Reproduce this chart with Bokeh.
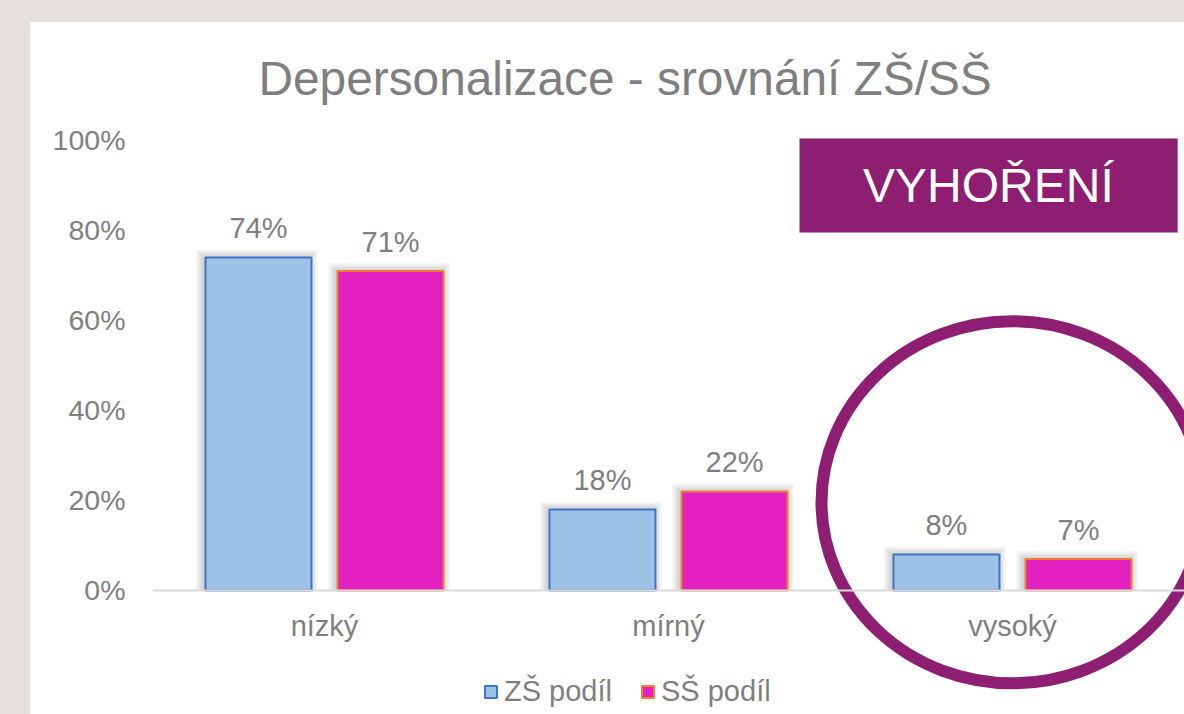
from bokeh.plotting import figure
from bokeh.models import (FactorRange, Range1d, FixedTicker, ColumnDataSource, Legend, LegendItem,
                          BoxAnnotation, Label, Spacer, NumeralTickFormatter)
from bokeh.transform import dodge
from bokeh.layouts import column, row
from bokeh.core.properties import value
from bokeh.embed import file_html
from bokeh.resources import INLINE

categories = ["nízký", "mírný", "vysoký"]
zs_values = [0.74, 0.18, 0.08]
ss_values = [0.71, 0.22, 0.07]
series_names = ["ZŠ podíl", "SŠ podíl"]
y_ticks = [0, 0.2, 0.4, 0.6, 0.8, 1.0]
title_text = "Depersonalizace - srovnání ZŠ/SŠ"
box_text = "VYHOŘENÍ"

FONT = "Liberation Sans"
GRAY = "#7f7f7f"
PURPLE = "#8e1e72"
PAGE_BG = "#e4e1dd"

src = ColumnDataSource(dict(
    cat=categories,
    zs=zs_values,
    ss=ss_values,
    zs_lbl=[f"{round(v * 100)}%" for v in zs_values],
    ss_lbl=[f"{round(v * 100)}%" for v in ss_values],
))

p = figure(x_range=FactorRange(*categories, range_padding=0),
           y_range=Range1d(-0.2756, 1.0333),
           width=1154, height=692, output_backend="svg", toolbar_location=None,
           min_border_left=122, min_border_right=0, min_border_bottom=0, min_border_top=103)
p.outline_line_color = None
p.xgrid.visible = False
p.ygrid.visible = False
p.background_fill_color = "white"
p.border_fill_color = "white"

p.title.text = title_text
p.title.text_font = FONT
p.title.text_font_size = "47.8px"
p.title.text_font_style = "normal"
p.title.text_color = GRAY
p.title.align = "left"
p.title.offset = 106
p.title.standoff = 41

# y axis
p.yaxis.ticker = FixedTicker(ticks=y_ticks)
p.yaxis.formatter = NumeralTickFormatter(format="0%")
p.yaxis.axis_line_color = None
p.yaxis.major_tick_line_color = None
p.yaxis.minor_tick_line_color = None
p.yaxis.major_tick_out = 0
p.yaxis.major_label_standoff = 27
p.yaxis.major_label_text_font = FONT
p.yaxis.major_label_text_font_size = "28.5px"
p.yaxis.major_label_text_color = GRAY

# x axis at y = 0
p.xaxis.fixed_location = 0
p.xaxis.axis_line_color = "#d9d9d9"
p.xaxis.axis_line_width = 2
p.xaxis.major_tick_line_color = None
p.xaxis.minor_tick_line_color = None
p.xaxis.major_tick_out = 0
p.xaxis.major_label_standoff = 20
p.xaxis.major_label_text_font = FONT
p.xaxis.major_label_text_font_size = "29px"
p.xaxis.major_label_text_color = GRAY

BW = 0.308
OFF = 0.192
PX_X = 1.0 / 344.0
PX_Y = 1.0 / 450.0

# soft shadows behind the bars
for k in range(1, 6):
    for off, col in ((-OFF, "zs"), (OFF, "ss")):
        p.vbar(x=dodge("cat", off - 1.5 * PX_X, range=p.x_range), top=dodge(col, k * 1.6 * PX_Y),
               width=BW + 2 * k * 1.6 * PX_X, bottom=0, source=src,
               fill_color="black", fill_alpha=0.035, line_color=None)

r1 = p.vbar(x=dodge("cat", -OFF, range=p.x_range), top="zs", width=BW, bottom=0, source=src,
            fill_color="#9dc3e6", line_color="#4472c4", line_width=2)
r2 = p.vbar(x=dodge("cat", OFF, range=p.x_range), top="ss", width=BW, bottom=0, source=src,
            fill_color="#e321c1", line_color="#ed7d31", line_width=2)

p.text(x=dodge("cat", -OFF, range=p.x_range), y="zs", text="zs_lbl", source=src,
       y_offset=-13, text_align="center", text_baseline="bottom",
       text_font=value(FONT), text_font_size="29px", text_color=GRAY)
p.text(x=dodge("cat", OFF, range=p.x_range), y="ss", text="ss_lbl", source=src,
       y_offset=-13, text_align="center", text_baseline="bottom",
       text_font=value(FONT), text_font_size="29px", text_color=GRAY)

# highlight ellipse around "vysoký"
p.ellipse(x=["vysoký"], y=[0.196], width=382, height=362,
          width_units="screen", height_units="screen",
          fill_color=None, line_color=PURPLE, line_width=12)

# VYHOŘENÍ box
p.add_layout(BoxAnnotation(left=1.881, right=2.98, bottom=0.7956, top=1.0044,
                           fill_color=PURPLE, fill_alpha=1.0,
                           line_color="#6f8fd0", line_width=1))
p.add_layout(Label(x=2.43, y=0.90, text=box_text, text_align="center", text_baseline="middle",
                   text_color="white", text_font=FONT, text_font_size="48px"))

legend = Legend(items=[LegendItem(label=series_names[0], renderers=[r1]),
                       LegendItem(label=series_names[1], renderers=[r2])],
                orientation="horizontal", location=(331, 6),
                label_text_font=FONT, label_text_font_size="29px", label_text_color=GRAY,
                glyph_width=15, glyph_height=15, label_standoff=6, spacing=28,
                padding=0, margin=0, border_line_color=None, background_fill_alpha=0)
p.add_layout(legend)

layout = column(Spacer(height=22, width=1184, styles={"background-color": PAGE_BG}),
                row(Spacer(width=30, height=692, styles={"background-color": PAGE_BG}), p,
                    styles={"background-color": "white"}),
                styles={"background-color": PAGE_BG})

open("out.html", "w").write(file_html(layout, INLINE))
